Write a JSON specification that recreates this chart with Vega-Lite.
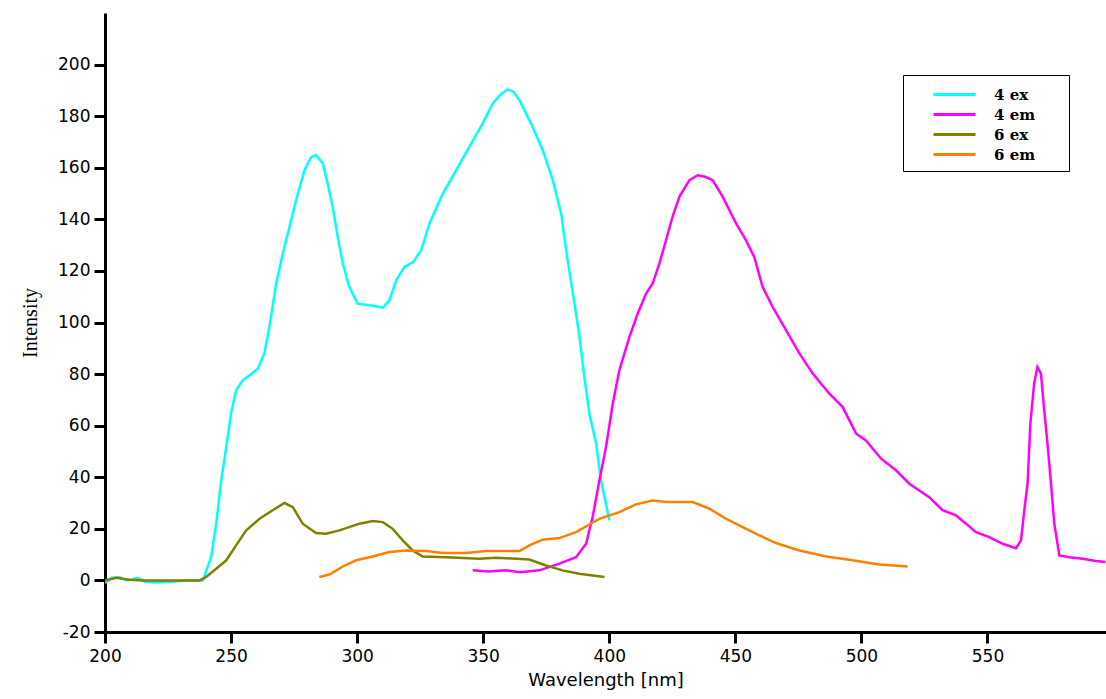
{
  "$schema": "https://vega.github.io/schema/vega-lite/v6.json",
  "width": 1001,
  "height": 619,
  "autosize": {"type": "none"},
  "padding": {"left": 105, "top": 13, "right": 0, "bottom": 67},
  "background": "white",
  "config": {"view": {"stroke": null}},
  "data": {"values": [
    {"s":"4 ex","x":200,"y":-1},{"s":"4 ex","x":202.6,"y":1},{"s":"4 ex","x":205.7,"y":1.2},{"s":"4 ex","x":208.5,"y":0},{"s":"4 ex","x":211,"y":0.5},{"s":"4 ex","x":213,"y":1},{"s":"4 ex","x":216,"y":-0.5},{"s":"4 ex","x":220,"y":-0.8},{"s":"4 ex","x":226,"y":-0.5},{"s":"4 ex","x":232,"y":0},{"s":"4 ex","x":238.8,"y":0},{"s":"4 ex","x":242.1,"y":9},{"s":"4 ex","x":244.1,"y":22},{"s":"4 ex","x":246.1,"y":38.8},{"s":"4 ex","x":248.1,"y":51.7},{"s":"4 ex","x":250,"y":64.7},{"s":"4 ex","x":252,"y":73.7},{"s":"4 ex","x":254.6,"y":77.6},{"s":"4 ex","x":258,"y":80},{"s":"4 ex","x":260.6,"y":82.1},{"s":"4 ex","x":263.2,"y":88},{"s":"4 ex","x":265.2,"y":98.3},{"s":"4 ex","x":267.9,"y":115.1},{"s":"4 ex","x":270.5,"y":126.7},{"s":"4 ex","x":273.2,"y":137.1},{"s":"4 ex","x":275.8,"y":147.4},{"s":"4 ex","x":279.1,"y":159},{"s":"4 ex","x":281.8,"y":164.2},{"s":"4 ex","x":283.7,"y":164.9},{"s":"4 ex","x":286.4,"y":161.7},{"s":"4 ex","x":288.3,"y":153.9},{"s":"4 ex","x":290.3,"y":144.8},{"s":"4 ex","x":292.3,"y":133.2},{"s":"4 ex","x":294.3,"y":122.9},{"s":"4 ex","x":296.9,"y":113.8},{"s":"4 ex","x":300.2,"y":107.3},{"s":"4 ex","x":304.9,"y":106.7},{"s":"4 ex","x":310.2,"y":105.8},{"s":"4 ex","x":312.8,"y":108.6},{"s":"4 ex","x":315.5,"y":116.4},{"s":"4 ex","x":318.8,"y":121.5},{"s":"4 ex","x":322.3,"y":123.5},{"s":"4 ex","x":325.4,"y":128},{"s":"4 ex","x":328.7,"y":138.4},{"s":"4 ex","x":334,"y":150},{"s":"4 ex","x":339.3,"y":159.1},{"s":"4 ex","x":344.5,"y":168.1},{"s":"4 ex","x":349.8,"y":177.2},{"s":"4 ex","x":353.8,"y":184.9},{"s":"4 ex","x":357,"y":188.5},{"s":"4 ex","x":359.7,"y":190.4},{"s":"4 ex","x":362,"y":189.5},{"s":"4 ex","x":364.4,"y":186.2},{"s":"4 ex","x":369.6,"y":175.9},{"s":"4 ex","x":373.6,"y":166.8},{"s":"4 ex","x":377.6,"y":155.2},{"s":"4 ex","x":380.9,"y":142.3},{"s":"4 ex","x":383.5,"y":124.1},{"s":"4 ex","x":386.2,"y":107.3},{"s":"4 ex","x":388.2,"y":94.4},{"s":"4 ex","x":390.1,"y":78.9},{"s":"4 ex","x":392.1,"y":64.7},{"s":"4 ex","x":394.8,"y":53},{"s":"4 ex","x":396.7,"y":38.8},{"s":"4 ex","x":398.7,"y":29.8},{"s":"4 ex","x":400,"y":23.3},
    {"s":"4 em","x":345.8,"y":3.9},{"s":"4 em","x":352,"y":3.5},{"s":"4 em","x":359.1,"y":3.9},{"s":"4 em","x":364.4,"y":3.2},{"s":"4 em","x":372.3,"y":3.9},{"s":"4 em","x":380.2,"y":6.5},{"s":"4 em","x":386.8,"y":9},{"s":"4 em","x":390.8,"y":14.2},{"s":"4 em","x":393.4,"y":24.6},{"s":"4 em","x":396.1,"y":38.8},{"s":"4 em","x":398.7,"y":51.7},{"s":"4 em","x":401.4,"y":68.6},{"s":"4 em","x":404,"y":81.5},{"s":"4 em","x":408,"y":94.4},{"s":"4 em","x":411.3,"y":103.5},{"s":"4 em","x":414.6,"y":111.2},{"s":"4 em","x":417.2,"y":115.1},{"s":"4 em","x":419.9,"y":122.9},{"s":"4 em","x":422.5,"y":131.9},{"s":"4 em","x":425.1,"y":141},{"s":"4 em","x":427.8,"y":148.7},{"s":"4 em","x":431.8,"y":155.2},{"s":"4 em","x":435.1,"y":157.1},{"s":"4 em","x":438,"y":156.5},{"s":"4 em","x":441,"y":155.2},{"s":"4 em","x":445,"y":148.7},{"s":"4 em","x":450.3,"y":138.4},{"s":"4 em","x":454.2,"y":131.9},{"s":"4 em","x":457.5,"y":125.4},{"s":"4 em","x":460.8,"y":113.8},{"s":"4 em","x":464.8,"y":106},{"s":"4 em","x":470.1,"y":97},{"s":"4 em","x":475.4,"y":88},{"s":"4 em","x":480.7,"y":80.2},{"s":"4 em","x":487.3,"y":72.4},{"s":"4 em","x":492.6,"y":67.2},{"s":"4 em","x":497.9,"y":56.9},{"s":"4 em","x":501.8,"y":54.3},{"s":"4 em","x":507.8,"y":47.2},{"s":"4 em","x":513.7,"y":42.7},{"s":"4 em","x":519,"y":37.5},{"s":"4 em","x":526.9,"y":32.3},{"s":"4 em","x":532.2,"y":27.2},{"s":"4 em","x":537.5,"y":25.2},{"s":"4 em","x":541.5,"y":22},{"s":"4 em","x":545.4,"y":18.7},{"s":"4 em","x":550.7,"y":16.8},{"s":"4 em","x":556,"y":14.2},{"s":"4 em","x":561.3,"y":12.5},{"s":"4 em","x":563.3,"y":15.5},{"s":"4 em","x":564.6,"y":27.2},{"s":"4 em","x":565.9,"y":37.5},{"s":"4 em","x":567,"y":60.8},{"s":"4 em","x":568.5,"y":76.3},{"s":"4 em","x":569.8,"y":82.8},{"s":"4 em","x":571.2,"y":80.2},{"s":"4 em","x":572.5,"y":66},{"s":"4 em","x":573.8,"y":53},{"s":"4 em","x":575.2,"y":37.5},{"s":"4 em","x":576.5,"y":22},{"s":"4 em","x":578.5,"y":9.7},{"s":"4 em","x":582.4,"y":9},{"s":"4 em","x":587.7,"y":8.4},{"s":"4 em","x":593,"y":7.5},{"s":"4 em","x":596.7,"y":7.1},
    {"s":"6 ex","x":200,"y":0},{"s":"6 ex","x":204.4,"y":1},{"s":"6 ex","x":209.7,"y":0.3},{"s":"6 ex","x":215,"y":0},{"s":"6 ex","x":237.5,"y":0},{"s":"6 ex","x":240.1,"y":1.3},{"s":"6 ex","x":244.1,"y":4.5},{"s":"6 ex","x":248.1,"y":7.8},{"s":"6 ex","x":252,"y":13.6},{"s":"6 ex","x":256,"y":19.4},{"s":"6 ex","x":261.3,"y":23.9},{"s":"6 ex","x":266.5,"y":27.2},{"s":"6 ex","x":271.2,"y":30},{"s":"6 ex","x":274.5,"y":28.4},{"s":"6 ex","x":278.4,"y":22},{"s":"6 ex","x":283.7,"y":18.4},{"s":"6 ex","x":287.7,"y":18.1},{"s":"6 ex","x":293,"y":19.4},{"s":"6 ex","x":300.9,"y":22},{"s":"6 ex","x":306.2,"y":23},{"s":"6 ex","x":310.2,"y":22.6},{"s":"6 ex","x":314.1,"y":20},{"s":"6 ex","x":318.1,"y":15.5},{"s":"6 ex","x":322,"y":11.6},{"s":"6 ex","x":326,"y":9.3},{"s":"6 ex","x":335.3,"y":9},{"s":"6 ex","x":348.5,"y":8.4},{"s":"6 ex","x":355.1,"y":8.8},{"s":"6 ex","x":368.3,"y":8.1},{"s":"6 ex","x":374.9,"y":5.8},{"s":"6 ex","x":381.5,"y":3.9},{"s":"6 ex","x":388.1,"y":2.6},{"s":"6 ex","x":398.1,"y":1.3},
    {"s":"6 em","x":285,"y":1.3},{"s":"6 em","x":289,"y":2.3},{"s":"6 em","x":294.3,"y":5.4},{"s":"6 em","x":299.6,"y":7.8},{"s":"6 em","x":306.2,"y":9.3},{"s":"6 em","x":312.8,"y":11},{"s":"6 em","x":319.4,"y":11.6},{"s":"6 em","x":327.4,"y":11.4},{"s":"6 em","x":333.9,"y":10.6},{"s":"6 em","x":343.2,"y":10.6},{"s":"6 em","x":351.1,"y":11.4},{"s":"6 em","x":364.4,"y":11.4},{"s":"6 em","x":368.3,"y":13.6},{"s":"6 em","x":373.6,"y":15.8},{"s":"6 em","x":380.2,"y":16.4},{"s":"6 em","x":386.8,"y":18.7},{"s":"6 em","x":396.1,"y":23.9},{"s":"6 em","x":404,"y":26.5},{"s":"6 em","x":410.6,"y":29.5},{"s":"6 em","x":417.2,"y":31},{"s":"6 em","x":422.5,"y":30.4},{"s":"6 em","x":433.1,"y":30.4},{"s":"6 em","x":439.7,"y":27.8},{"s":"6 em","x":446.3,"y":23.9},{"s":"6 em","x":452.9,"y":20.7},{"s":"6 em","x":459.5,"y":17.5},{"s":"6 em","x":466.1,"y":14.5},{"s":"6 em","x":475.4,"y":11.6},{"s":"6 em","x":486,"y":9.3},{"s":"6 em","x":496.5,"y":7.8},{"s":"6 em","x":507.1,"y":6.2},{"s":"6 em","x":518.3,"y":5.4}
  ]},
  "mark": {"type": "line", "strokeWidth": 2.5, "clip": true},
  "encoding": {
    "x": {
      "field": "x", "type": "quantitative",
      "scale": {"domain": [200, 597], "nice": false, "zero": false},
      "axis": {
        "title": "Wavelength [nm]", "values": [200, 250, 300, 350, 400, 450, 500, 550],
        "grid": false, "domainColor": "black", "domainWidth": 3, "tickColor": "black", "tickWidth": 3, "tickSize": 11,
        "labelFont": "DejaVu Sans", "labelFontSize": 17, "labelColor": "black", "labelPadding": 5, "labelFlush": false, "labelOverlap": false,
        "titleFont": "DejaVu Sans", "titleFontSize": 18, "titleFontWeight": "normal", "titleColor": "black", "titlePadding": 7
      }
    },
    "y": {
      "field": "y", "type": "quantitative",
      "scale": {"domain": [-20, 220], "nice": false, "zero": false},
      "axis": {
        "title": "Intensity", "values": [-20, 0, 20, 40, 60, 80, 100, 120, 140, 160, 180, 200],
        "labelExpr": "'' + datum.value",
        "grid": false, "domainColor": "black", "domainWidth": 3, "tickColor": "black", "tickWidth": 3, "tickSize": 11,
        "labelFont": "DejaVu Sans", "labelFontSize": 17, "labelColor": "black", "labelPadding": 4, "labelFlush": false, "labelOverlap": false,
        "titleFont": "Liberation Serif", "titleFontSize": 20, "titleFontWeight": "normal", "titleColor": "black", "titlePadding": 17
      }
    },
    "color": {
      "field": "s", "type": "nominal",
      "scale": {"domain": ["4 ex", "4 em", "6 ex", "6 em"], "range": ["#00FFFF", "#FF00FF", "#808000", "#FF7F00"]},
      "legend": {
        "title": "\u00a0", "titleOrient": "right", "titlePadding": 26, "titleFontSize": 10,
        "orient": "none", "legendX": 798, "legendY": 62,
        "strokeColor": "black", "fillColor": "white", "padding": 8,
        "symbolType": "M-2.1,0H2.1", "symbolSize": 400, "symbolStrokeWidth": 3, "symbolOffset": 32,
        "labelFont": "DejaVu Serif", "labelFontWeight": "bold", "labelFontSize": 15, "labelColor": "black", "labelOffset": 28,
        "rowPadding": 0
      }
    }
  }
}
